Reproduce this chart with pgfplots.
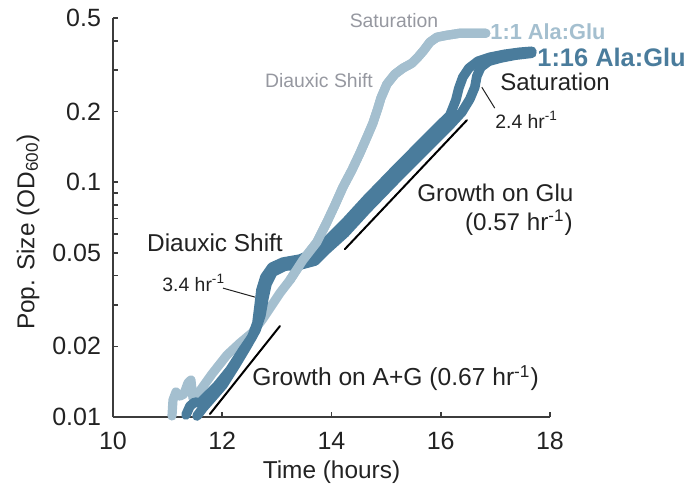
\documentclass[border=0pt]{standalone}
\usepackage{pgfplots}
\pgfplotsset{compat=1.18}
\usepackage{pgfplotstable}
\usepackage{fontspec}
\setmainfont{Liberation Sans}

\definecolor{lightser}{RGB}{164,191,207}
\definecolor{darkser}{RGB}{74,124,156}
\definecolor{axisgray}{RGB}{60,60,60}
\definecolor{txtblack}{RGB}{34,34,34}
\definecolor{txtgray}{RGB}{150,152,160}

% 1:1 Ala:Glu culture
\pgfplotstableread{
t od
11.080 0.01010
11.098 0.01181
11.153 0.01278
11.226 0.01228
11.299 0.01253
11.372 0.01395
11.427 0.01437
11.464 0.01205
11.537 0.01228
11.629 0.01329
11.812 0.01524
12.086 0.01836
12.324 0.02065
12.543 0.02278
12.726 0.02586
12.873 0.02909
13.056 0.03371
13.239 0.03828
13.477 0.04657
13.733 0.05556
13.916 0.06755
14.062 0.07983
14.209 0.09522
14.373 0.1125
14.520 0.1329
14.648 0.1554
14.758 0.1783
14.849 0.2065
14.904 0.2278
15.014 0.2613
15.160 0.2882
15.306 0.3056
15.471 0.3209
15.581 0.3403
15.691 0.3645
15.800 0.3943
15.929 0.4141
16.112 0.4222
16.349 0.4306
16.532 0.4306
16.825 0.4306
}\ratioA

% 1:16 Ala:Glu culture, replicate 1
\pgfplotstableread{
t od
11.336 0.01020
11.409 0.01114
11.500 0.01158
11.592 0.01147
11.720 0.01228
11.903 0.01355
12.141 0.01585
12.379 0.01928
12.543 0.02190
12.635 0.02512
12.672 0.02938
12.708 0.03470
12.781 0.03942
12.909 0.04347
13.111 0.04567
13.422 0.04703
13.641 0.04939
13.879 0.05502
14.245 0.06691
14.648 0.08467
15.252 0.1181
15.855 0.1633
16.167 0.1928
16.276 0.2233
16.331 0.2512
16.404 0.2798
16.514 0.3056
16.679 0.3272
16.899 0.3403
17.173 0.3505
17.447 0.3575
17.667 0.3609
}\ratioBa

% 1:16 Ala:Glu culture, replicate 2
\pgfplotstableread{
t od
11.537 0.01010
11.647 0.01092
11.775 0.01181
12.013 0.01368
12.232 0.01648
12.452 0.02005
12.617 0.02346
12.708 0.02716
12.763 0.03210
12.818 0.03681
12.928 0.04141
13.147 0.04391
13.422 0.04435
13.696 0.04612
13.879 0.05086
14.245 0.06068
14.648 0.07675
15.252 0.1071
15.855 0.1480
16.167 0.1748
16.386 0.1986
16.532 0.2256
16.624 0.2537
16.661 0.2826
16.734 0.3086
16.880 0.3272
17.081 0.3371
17.356 0.3471
17.667 0.3539
}\ratioBb

\begin{document}
\begin{tikzpicture}
\begin{axis}[
  name=ax,
  scale only axis, width=218.5pt, height=199.5pt,
  xmin=10, xmax=18, ymin=0.01, ymax=0.5, ymode=log,
  axis lines=left,
  axis line style={-, line width=1pt, color=axisgray},
  xtick={10,12,14,16,18},
  ytick={0.01,0.02,0.05,0.1,0.2,0.5},
  yticklabels={0.01,0.02,0.05,0.1,0.2,0.5},
  minor ytick={0.03,0.04,0.06,0.07,0.08,0.09,0.3,0.4},
  tick align=inside, major tick length=2.5pt, minor tick length=2.5pt,
  tick style={line width=0.8pt, color=axisgray},
  /pgf/number format/assume math mode=true,
  ticklabel style={font=\fontsize{12.5}{14}\selectfont, text=txtblack},
  yticklabel style={xshift=-2.5pt},
  xticklabel style={yshift=-4pt},
  xlabel={Time (hours)},
  ylabel={Pop. Size (OD\textsubscript{600})},
  label style={font=\fontsize{12.2}{14}\selectfont, text=txtblack},
  xlabel style={at={(axis description cs:0.5,-0.1378)}, anchor=center},
  ylabel style={at={(axis description cs:-0.1945,0.4637)}, anchor=center},
  clip=false,
  every axis plot/.append style={line join=round, line cap=round},
]
\addplot[lightser, line width=4.6pt] table[x=t, y=od] {\ratioA};
\addplot[darkser, line width=4.8pt] table[x=t, y=od] {\ratioBb};
\addplot[darkser, line width=4.8pt] table[x=t, y=od] {\ratioBa};
\addplot[lightser, line width=4.6pt, restrict x to domain=13.2:17] table[x=t, y=od] {\ratioA};

% exponential fits
\addplot[black, line width=1pt] coordinates {(11.775,0.01030) (13.056,0.02439)};
\addplot[black, line width=1pt] coordinates {(14.245,0.05186) (16.478,0.1836)};

% leader lines
\draw[txtblack, line width=0.5pt] (axis cs:12.013,0.03539) -- (axis cs:12.598,0.03241);
\draw[txtblack, line width=0.5pt] (axis cs:16.752,0.2537) -- (axis cs:16.990,0.2065);

% annotations
\node[text=txtgray, font=\fontsize{9.7}{11}\selectfont] at (axis description cs:0.643,0.9925) {Saturation};
\node[text=txtgray, font=\fontsize{9.7}{11}\selectfont] at (axis description cs:0.4714,0.8421) {Diauxic Shift};
\node[text=lightser, font=\bfseries\fontsize{10.9}{12}\selectfont, anchor=west, inner sep=0pt] at (axis description cs:0.8627,0.9649) {1:1 Ala:Glu};
\node[text=darkser, font=\bfseries\fontsize{12.7}{14}\selectfont, anchor=west, inner sep=0pt] at (axis description cs:0.9703,0.9023) {1:16 Ala:Glu};
\node[text=txtblack, font=\fontsize{12}{14}\selectfont, anchor=west, inner sep=0pt] at (axis description cs:0.8856,0.8396) {Saturation};
\node[text=txtblack, font=\fontsize{9.7}{11}\selectfont, anchor=base west, inner sep=0pt] at (axis description cs:0.8741,0.7243) {2.4 hr\textsuperscript{-1}};
\node[text=txtblack, font=\fontsize{12.1}{14}\selectfont, anchor=west, inner sep=0pt] at (axis description cs:0.6957,0.5614) {Growth on Glu};
\node[text=txtblack, font=\fontsize{12.1}{14}\selectfont, anchor=east, inner sep=0pt] at (axis description cs:1.0526,0.4862) {(0.57 hr\textsuperscript{-1})};
\node[text=txtblack, font=\fontsize{12.2}{14}\selectfont] at (axis description cs:0.2334,0.4361) {Diauxic Shift};
\node[text=txtblack, font=\fontsize{9.7}{11}\selectfont, anchor=base west, inner sep=0pt] at (axis description cs:0.1121,0.3158) {3.4 hr\textsuperscript{-1}};
\node[text=txtblack, font=\fontsize{12.3}{14}\selectfont, anchor=west, inner sep=0pt] at (axis description cs:0.3181,0.0977) {Growth on A+G (0.67 hr\textsuperscript{-1})};
\end{axis}
\pgfresetboundingbox
\path ([shift={(-56.5pt,-33.5pt)}]ax.south west) rectangle ([shift={(287pt,208.5pt)}]ax.south west);
\end{tikzpicture}
\end{document}
